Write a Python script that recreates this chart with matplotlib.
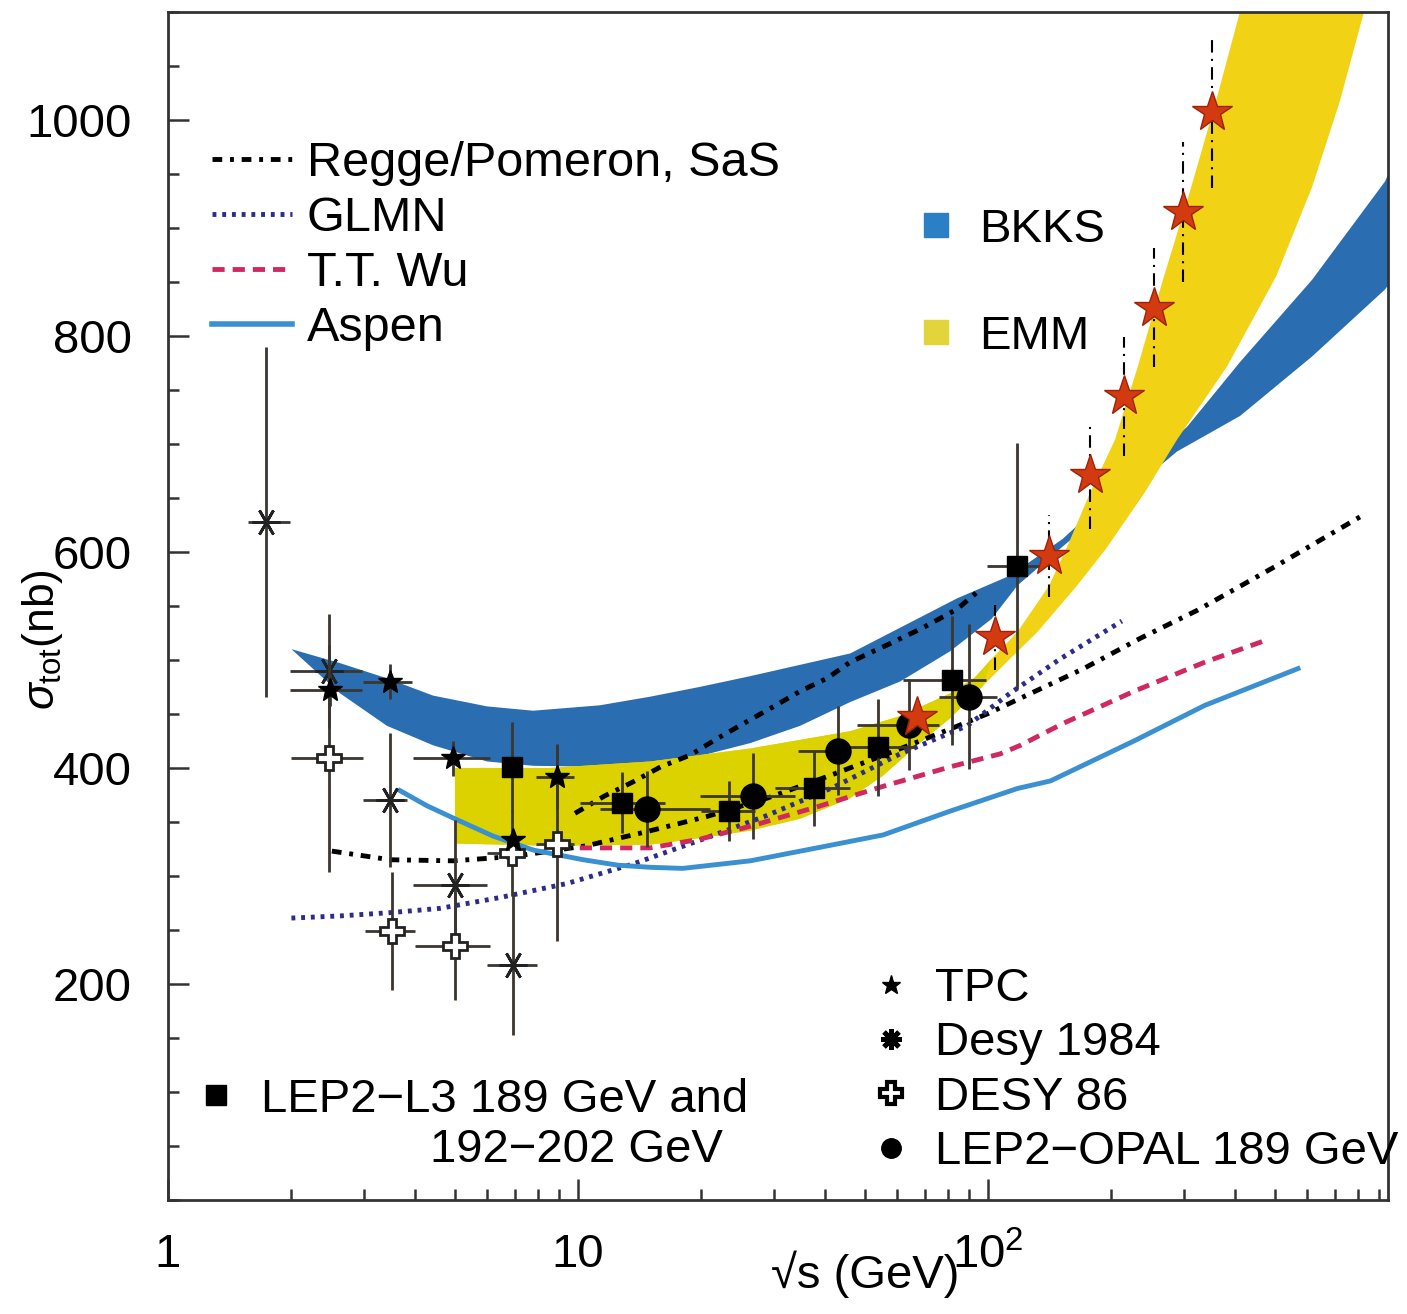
import numpy as np
import matplotlib.pyplot as plt
from matplotlib.lines import Line2D
from matplotlib.ticker import FixedLocator, MultipleLocator, LogLocator, NullFormatter, FixedFormatter

plt.rcParams['font.family'] = ['Liberation Sans', 'DejaVu Sans']
plt.rcParams['font.size'] = 34
plt.rcParams['mathtext.fontset'] = 'custom'
plt.rcParams['mathtext.rm'] = 'Liberation Sans'
plt.rcParams['mathtext.it'] = 'Liberation Sans:italic'
plt.rcParams['mathtext.bf'] = 'Liberation Sans:bold'

# ===> model bands, edges (sqrt(s) in GeV, sigma_tot in nb)
bkks_top_x = [2.0, 2.63, 3.42, 4.43, 6.0, 7.77, 11.3, 15.0, 19.8, 26.3, 46.1, 84.0, 113, 152, 210, 306, 412, 617, 929, 960]
bkks_top_y = [510, 497, 483, 467, 457, 453, 458, 466, 475, 485, 506, 557, 578, 612, 661, 716, 776, 852, 943, 955]
bkks_bot_x = [2.0, 2.63, 3.42, 4.43, 6.0, 7.77, 11.3, 15.0, 19.8, 26.3, 34.8, 46.1, 61.0, 80.8, 102, 118, 152, 210, 289, 412, 617, 929, 960]
bkks_bot_y = [510, 469, 439, 421, 406, 402, 401, 402, 411, 423, 439, 461, 480, 508, 538, 569, 605, 649, 693, 726, 781, 843, 850]

emm_top_x = [5.01, 8.55, 15.0, 26.3, 46.1, 61.0, 80.8, 93.0, 102, 118, 141, 156, 177, 204, 232, 267, 313, 360, 414, 421]
emm_top_y = [400, 400, 406, 418, 434, 448, 469, 484, 501, 526, 569, 605, 654, 704, 772, 852, 938, 1018, 1104, 1115]
emm_bot_x = [5.01, 8.55, 15.0, 19.8, 26.3, 34.8, 46.1, 55.5, 67.1, 80.8, 97.2, 109, 132, 165, 194, 241, 289, 383, 504, 617, 722, 831, 845]
emm_bot_y = [330, 328, 329, 335, 342, 353, 372, 393, 421, 446, 476, 495, 526, 569, 603, 655, 704, 772, 855, 938, 1018, 1104, 1115]

# ===> model curves
regge_lo_x = [2.51, 3.48, 4.96, 6.94, 10.5, 14.7, 20.6, 28.9, 40.5, 56.7, 80.8, 99.5, 127, 171, 235, 324, 504, 812]
regge_lo_y = [323, 315, 314, 318, 328, 341, 355, 372, 392, 413, 436, 450, 469, 492, 520, 546, 587, 633]
regge_hi_x = [9.83, 11.6, 13.6, 15.9, 18.8, 21.8, 25.3, 29.4, 34.8, 40.5, 46.1, 56.1, 68.7, 84.0, 93.5]
regge_hi_y = [358, 374, 387, 401, 412, 427, 441, 455, 471, 483, 498, 513, 529, 547, 562]
glmn_x = [2.0, 2.63, 3.48, 4.61, 6.45, 9.40, 13.6, 19.8, 28.9, 41.9, 61.0, 88.9, 113, 150, 212]
glmn_y = [261, 263, 266, 270, 280, 293, 311, 333, 356, 382, 413, 439, 469, 501, 536]
wu_x = [10.1, 15.0, 19.8, 26.3, 38.3, 55.5, 80.8, 107, 120, 152, 227, 338, 466]
wu_y = [326, 326, 334, 346, 364, 383, 401, 413, 421, 441, 471, 498, 517]
aspen_x = [3.68, 4.28, 5.07, 6.20, 7.77, 10.3, 12.5, 15.0, 18.0, 26.3, 38.3, 55.5, 80.8, 118, 142, 227, 338, 570]
aspen_y = [379, 365, 352, 337, 324, 315, 310, 308, 307, 314, 326, 338, 360, 381, 388, 425, 458, 492]

# ===> data points
desy84_x = [1.73, 2.47, 3.48, 5.0, 6.93]
desy84_y = [628, 490, 370, 292, 218]
desy84_xlo = [1.57, 1.98, 2.99, 3.96, 6.0]
desy84_xhi = [1.98, 2.97, 3.83, 6.0, 7.93]
desy84_err = [162, 53, 62, 60, 65]

desy86_x = [2.47, 3.52, 5.01, 6.9, 8.89]
desy86_y = [409, 249, 235, 321, 330]
desy86_xlo = [2.0, 3.02, 4.0, 6.0, 7.9]
desy86_xhi = [2.99, 4.0, 6.1, 7.35, 9.8]
desy86_err = [105, 55, 50, 40, 90]

tpc_x = [2.48, 3.48, 4.95, 6.93, 8.89]
tpc_y = [472, 480, 409, 333, 392]
tpc_xlo = [1.98, 2.99, 3.96, 6.93, 7.9]
tpc_xhi = [2.97, 3.94, 6.1, 6.93, 9.8]
tpc_err = [15, 16, 16, 10, 30]

l3_x = [6.9, 12.83, 23.4, 37.6, 53.8, 81.5, 117.9]
l3_y = [401, 368, 360, 381, 419, 481, 587]
l3_xlo = [6.9, 10.1, 20.0, 30.2, 43.6, 62.0, 99.6]
l3_xhi = [6.9, 16.3, 27.0, 46.0, 66.0, 99.0, 136.0]
l3_err = [42, 28, 28, 35, 45, 60, 114]

opal_x = [14.7, 26.7, 43.1, 64.1, 89.9]
opal_y = [362, 374, 416, 440, 466]
opal_xlo = [11.3, 19.8, 34.3, 48.0, 76.0]
opal_xhi = [21.0, 33.8, 45.0, 76.0, 105.0]
opal_err = [35, 40, 41, 42, 67]

red_x = [67, 104, 141, 177, 215, 254, 299, 352]
red_y = [447, 521, 596, 671, 744, 826, 915, 1007]
red_err = [15, 30, 38, 50, 55, 55, 65, 70]

ebc = '#3b3630'


def xe(x, lo, hi):
    x = np.array(x, float)
    return [x - np.array(lo), np.array(hi) - x]


fig = plt.figure(figsize=(14.07, 13.14), dpi=100)
ax = fig.add_axes([0.1194, 0.0868, 0.8671, 0.9041])
ax.set_xscale('log')
ax.set_xlim(1, 945)
ax.set_ylim(0, 1100)

# bands (EMM lower part is a bit greener than the upper part)
ax.fill(bkks_top_x + bkks_bot_x[::-1], bkks_top_y + bkks_bot_y[::-1], color='#2a6db0', lw=0, zorder=1)
ax.fill(emm_top_x + emm_bot_x[::-1], emm_top_y + emm_bot_y[::-1], color='#f2d214', lw=0, zorder=2)
ax.fill(emm_top_x[:9] + emm_bot_x[:11][::-1], emm_top_y[:9] + emm_bot_y[:11][::-1], color='#dcd200', lw=0, zorder=2)

# curves
regge_ls = (0, (2.0, 1.6, 0.8, 1.6))
ax.plot(regge_lo_x, regge_lo_y, color='k', lw=3.5, ls=regge_ls, zorder=3)
ax.plot(regge_hi_x, regge_hi_y, color='k', lw=3.5, ls=regge_ls, zorder=3)
ax.plot(glmn_x, glmn_y, color='#2c2c8c', lw=3.5, ls=(0, (0.8, 1.2)), zorder=3)
ax.plot(wu_x, wu_y, color='#d02860', lw=3.5, ls=(0, (2.5, 1.65)), zorder=3)
ax.plot(aspen_x, aspen_y, color='#3a90d0', lw=3.5, zorder=3)

# points
ax.errorbar(desy84_x, desy84_y, yerr=desy84_err, xerr=xe(desy84_x, desy84_xlo, desy84_xhi),
            fmt='none', ecolor=ebc, elinewidth=2, zorder=4)
ax.plot(desy84_x, desy84_y, ls='none', marker=(6, 2, 90), ms=20, mew=2, color='#222222', zorder=5)
ax.errorbar(desy86_x, desy86_y, yerr=desy86_err, xerr=xe(desy86_x, desy86_xlo, desy86_xhi),
            fmt='P', ms=17, mfc='white', mec='#222222', mew=2, ecolor=ebc, elinewidth=2, zorder=5)
ax.errorbar(tpc_x, tpc_y, yerr=tpc_err, xerr=xe(tpc_x, tpc_xlo, tpc_xhi),
            fmt='*', ms=18, color='k', ecolor=ebc, elinewidth=2, zorder=5)
ax.errorbar(l3_x, l3_y, yerr=l3_err, xerr=xe(l3_x, l3_xlo, l3_xhi),
            fmt='s', ms=15, color='k', ecolor=ebc, elinewidth=2, zorder=5)
ax.errorbar(opal_x, opal_y, yerr=opal_err, xerr=xe(opal_x, opal_xlo, opal_xhi),
            fmt='o', ms=18, color='k', ecolor=ebc, elinewidth=2, zorder=5)
eb = ax.errorbar(red_x, red_y, yerr=red_err, fmt='*', ms=30, mfc='#d23a10', mec='#a02008',
                 ecolor='k', elinewidth=1.5, zorder=6)
eb[2][0].set_linestyle((0, (6, 3, 1, 3)))

# axes cosmetics
for s in ax.spines.values():
    s.set_linewidth(2)
    s.set_color('#333333')
ax.yaxis.set_major_locator(FixedLocator([200, 400, 600, 800, 1000]))
ax.yaxis.set_minor_locator(MultipleLocator(50))
ax.xaxis.set_major_locator(FixedLocator([1, 10, 100]))
ax.xaxis.set_major_formatter(FixedFormatter(['1', '10', r'$10^2$']))
ax.xaxis.set_minor_locator(LogLocator(base=10, subs=np.arange(2, 10)))
ax.xaxis.set_minor_formatter(NullFormatter())
ax.tick_params(which='both', direction='in', top=False, right=False, width=1.8, color='#333333')
ax.tick_params(which='major', length=15)
ax.tick_params(which='minor', length=8)
ax.tick_params(axis='y', which='major', pad=26, labelsize=34)
ax.tick_params(axis='x', which='major', pad=24, labelsize=34)

fig.text(0.030, 0.513, r'$\sigma_{\rm tot}$(nb)', rotation=90, ha='center', va='center', fontsize=32)
fig.text(0.6148, 0.030, '√s (GeV)', ha='center', va='center', fontsize=34)

# legends
h1 = [Line2D([], [], color='k', lw=3.5, ls=regge_ls, label='Regge/Pomeron, SaS'),
      Line2D([], [], color='#2c2c8c', lw=3.5, ls=(0, (0.8, 1.2)), label='GLMN'),
      Line2D([], [], color='#d02860', lw=3.5, ls=(0, (2.5, 1.65)), label='T.T. Wu'),
      Line2D([], [], color='#3a90d0', lw=4, label='Aspen')]
leg1 = ax.legend(handles=h1, loc='upper left', bbox_to_anchor=(0.036, 0.891), frameon=False, fontsize=35,
                 handlelength=1.65, handletextpad=0.3, labelspacing=0.2, borderpad=0, borderaxespad=0)
ax.add_artist(leg1)

h2 = [Line2D([], [], ls='none', marker='s', ms=17, color='#2b7fc4', label='BKKS'),
      Line2D([], [], ls='none', marker='s', ms=17, color='#e2d43a', label='EMM')]
leg2 = ax.legend(handles=h2, loc='upper left', bbox_to_anchor=(0.62, 0.835), frameon=False,
                 handlelength=0.5, handletextpad=0.66, labelspacing=1.33, borderpad=0, borderaxespad=0)
ax.add_artist(leg2)

h3 = [Line2D([], [], ls='none', marker='*', ms=14, color='k', label='TPC'),
      Line2D([], [], ls='none', marker=(8, 2, 0), ms=15, mew=3.5, color='k', label='Desy 1984'),
      Line2D([], [], ls='none', marker='P', ms=16, mfc='white', mec='k', mew=3, label='DESY 86'),
      Line2D([], [], ls='none', marker='o', ms=14, color='k', label='LEP2\u2212OPAL 189 GeV')]
leg3 = ax.legend(handles=h3, loc='upper left', bbox_to_anchor=(0.582, 0.196), frameon=False,
                 handlelength=0.55, handletextpad=0.65, labelspacing=0.22, borderpad=0, borderaxespad=0)
ax.add_artist(leg3)

h4 = [Line2D([], [], ls='none', marker='s', ms=14, color='k', label='LEP2\u2212L3 189 GeV and')]
leg4 = ax.legend(handles=h4, loc='upper left', bbox_to_anchor=(0.0295, 0.103), frameon=False,
                 handlelength=0.5, handletextpad=0.7, borderpad=0, borderaxespad=0)
ax.text(0.2148, 0.042, '192\u2212202 GeV', transform=ax.transAxes, ha='left', va='center', fontsize=34)

fig.savefig('out.png', dpi=100)
